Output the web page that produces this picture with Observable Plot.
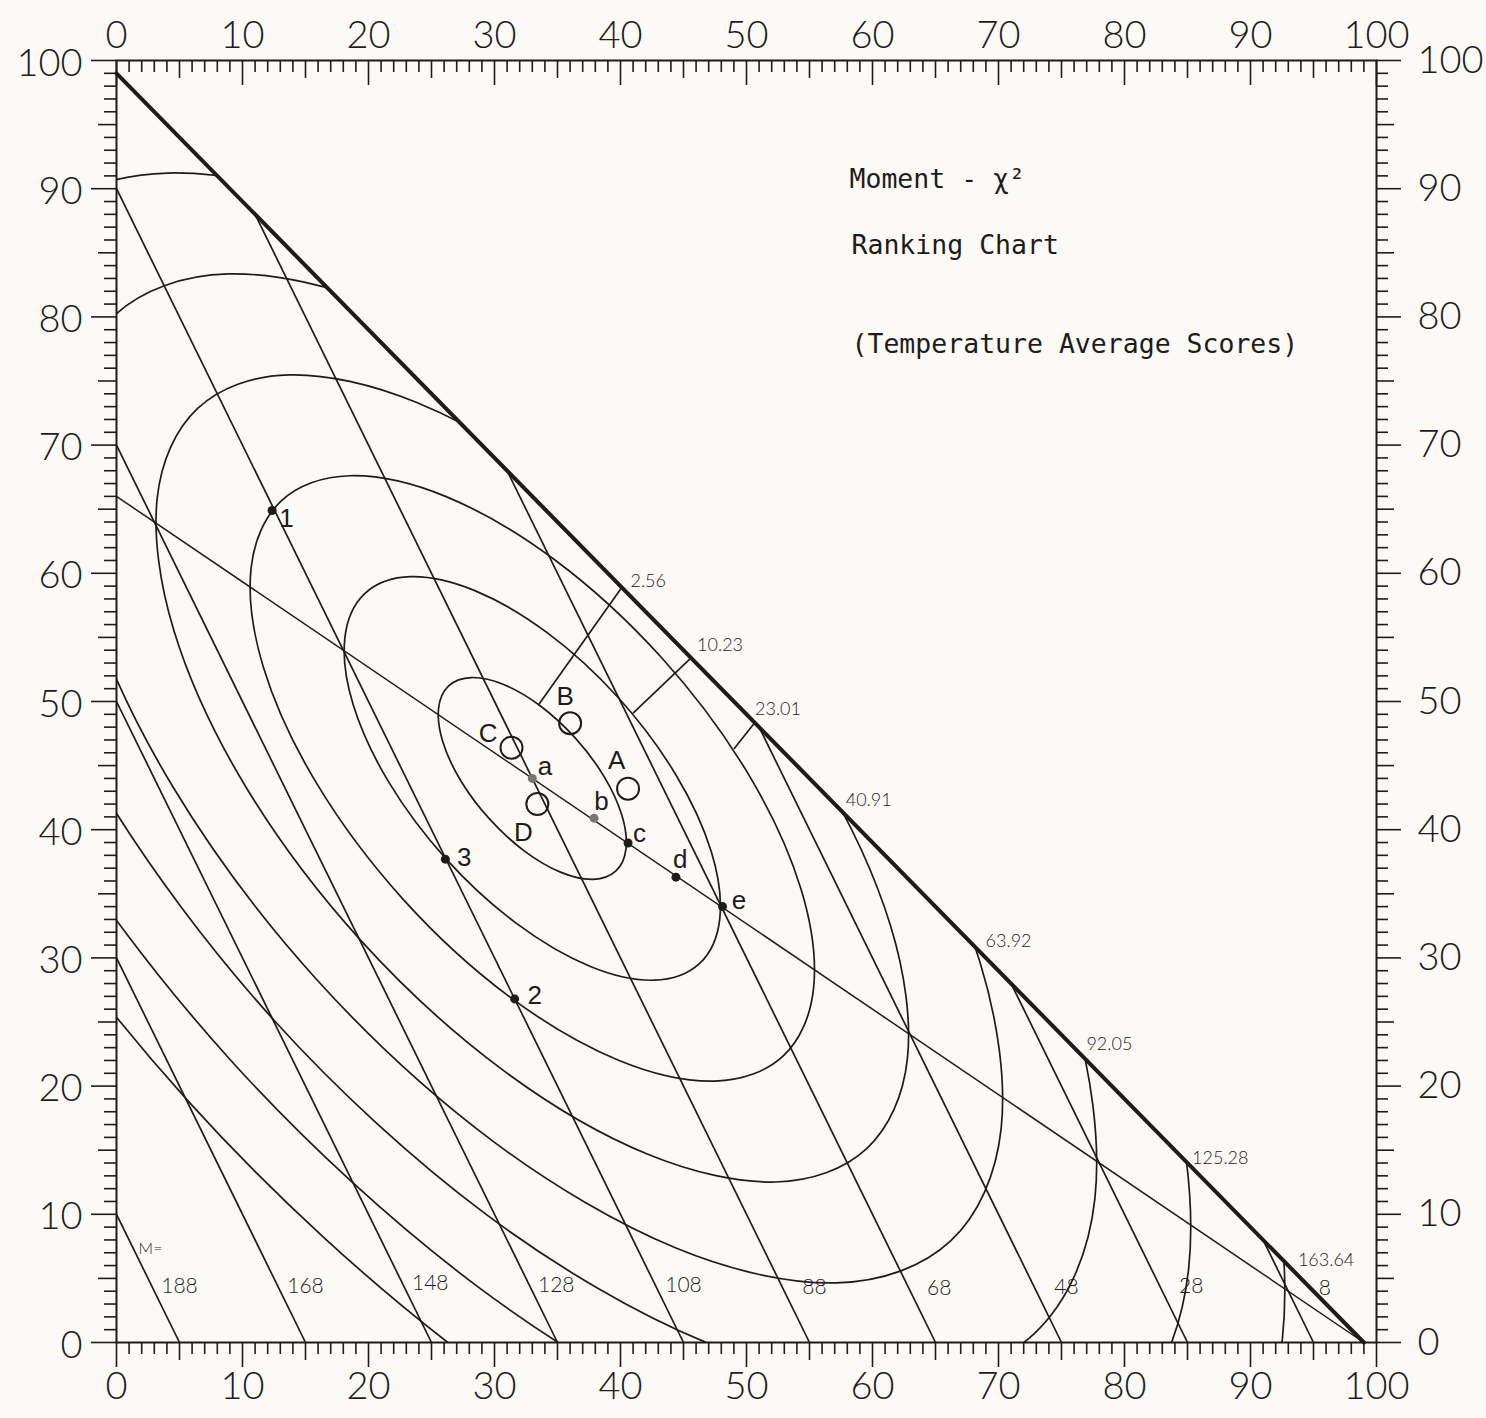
<!DOCTYPE html>
<html>
<head>
<meta charset="utf-8">
<script src="https://cdn.jsdelivr.net/npm/d3@7"></script>
<script src="https://cdn.jsdelivr.net/npm/@observablehq/plot@0.6"></script>
<style>
  html, body { margin: 0; padding: 0; background: #fbfaf6; }
  #chart { width: 1486px; height: 1418px; }
</style>
</head>
<body>
<div id="chart"></div>
<script>
// ---------------- data (axis units) ----------------
const axisLabels = [0, 10, 20, 30, 40, 50, 60, 70, 80, 90, 100];
const titleLines = ["Moment - χ²", "Ranking Chart", "(Temperature Average Scores)"];

// triangle edge (x + y = 99)
const hypotenuseX = [0, 99];
const hypotenuseY = [99, 0];
// ratio line through the centre of the contours
const ratioLineX = [0, 99];
const ratioLineY = [66, 0];

// moment (M) lines: from (x1,y1) down to the x axis at x2
const momentLabels = [188, 168, 148, 128, 108, 88, 68, 48, 28, 8];
const momentX1 = [0, 0, 0, 0, 0, 11, 31, 51, 71, 91];
const momentY1 = [10, 30, 50, 70, 90, 88, 68, 48, 28, 8];
const momentX2 = [5, 15, 25, 35, 45, 55, 65, 75, 85, 95];
const momentLabelX = [5.0, 15.0, 24.9, 34.9, 45.0, 55.4, 65.3, 75.4, 85.3, 95.9];
const momentLabelY = [4.4, 4.4, 4.6, 4.5, 4.5, 4.3, 4.2, 4.3, 4.4, 4.2];
const momentPrefix = ["M="];
const momentPrefixX = [2.7];
const momentPrefixY = [7.3];

// chi-square contours (k = 1..8), points read around each curve
const chiK = [1, 2, 3, 4, 5, 6, 7, 8];
const chiValues = [2.56, 10.23, 23.01, 40.91, 63.92, 92.05, 125.28, 163.64];
const chiLabelX = [42.2, 47.9, 52.5, 59.7, 70.8, 78.8, 87.6, 96.0];
const chiLabelY = [59.4, 54.4, 49.4, 42.3, 31.3, 23.3, 14.4, 6.4];

const contour1X = [39.64, 40.44, 40.11, 38.70, 36.42, 33.62, 30.72, 28.17, 26.36, 25.56, 25.89, 27.30, 29.58, 32.38, 35.28, 37.83];
const contour1Y = [36.78, 38.54, 41.12, 44.14, 47.14, 49.67, 51.33, 51.87, 51.22, 49.46, 46.88, 43.86, 40.86, 38.33, 36.67, 36.13];
const contour2X = [46.28, 47.88, 47.22, 44.39, 39.83, 34.23, 28.44, 23.35, 19.72, 18.12, 18.78, 21.61, 26.17, 31.77, 37.56, 42.65];
const contour2Y = [29.57, 33.07, 38.24, 44.29, 50.29, 55.33, 58.65, 59.74, 58.43, 54.93, 49.76, 43.71, 37.71, 32.67, 29.35, 28.26];
const contour3X = [52.92, 55.32, 54.33, 50.09, 43.25, 34.85, 26.16, 18.52, 13.08, 10.68, 11.67, 15.91, 22.75, 31.15, 39.84, 47.48];
const contour3Y = [22.35, 27.61, 35.36, 44.43, 53.43, 61.00, 65.98, 67.61, 65.65, 60.39, 52.64, 43.57, 34.57, 27.00, 22.02, 20.39];
const contour4X = [59.56, 62.77, 61.44, 55.79, 46.67, 35.46, 23.88, 13.69, 6.44, 3.23, 4.56, 10.21, 19.33, 30.54, 42.12, 52.31];
const contour4Y = [15.14, 22.14, 32.48, 44.57, 56.57, 66.66, 73.30, 75.48, 72.86, 65.86, 55.52, 43.43, 31.43, 21.34, 14.70, 12.52];
const contour5X = [66.20, 70.21, 68.55, 61.49, 50.08, 36.08, 21.60, 8.87, -0.20, -4.21, -2.55, 4.51, 15.92, 29.92, 44.40, 57.13];
const contour5Y = [7.92, 16.68, 29.60, 44.71, 59.72, 72.33, 80.63, 83.35, 80.08, 71.32, 58.40, 43.29, 28.28, 15.67, 7.37, 4.65];
const contour6X = [72.84, 77.65, 75.67, 67.18, 53.50, 36.69, 19.33, 4.04, -6.84, -11.65, -9.67, -1.18, 12.50, 29.31, 46.68, 61.96];
const contour6Y = [0.70, 11.22, 26.72, 44.86, 62.86, 77.99, 87.95, 91.22, 87.30, 76.78, 61.28, 43.14, 25.14, 10.01, 0.05, -3.22];
const contour7X = [79.48, 85.09, 82.78, 72.88, 56.92, 37.31, 17.05, -0.79, -13.48, -19.09, -16.78, -6.88, 9.08, 28.69, 48.95, 66.79];
const contour7Y = [-6.51, 5.75, 23.84, 45.00, 66.00, 83.66, 95.28, 99.09, 94.51, 82.25, 64.16, 43.00, 22.00, 4.34, -7.28, -11.09];
const contour8X = [86.12, 92.53, 89.89, 78.58, 60.33, 37.93, 14.77, -5.61, -20.12, -26.53, -23.89, -12.58, 5.67, 28.08, 51.23, 71.61];
const contour8Y = [-13.73, 0.29, 20.96, 45.14, 69.15, 89.33, 102.60, 106.96, 101.73, 87.71, 67.04, 42.86, 18.85, -1.33, -14.60, -18.96];

// leaders from the three inner contours to the edge
const leaderX1 = [33.5, 41.0, 49.0];
const leaderY1 = [49.75, 49.1, 46.3];
const leaderX2 = [40.1, 45.6, 50.65];
const leaderY2 = [58.9, 53.4, 48.35];

// open circles A-D
const circleLabels = ["A", "B", "C", "D"];
const circleX = [40.6, 36.0, 31.35, 33.4];
const circleY = [43.2, 48.3, 46.4, 42.0];
const circleTextX = [39.7, 35.6, 29.5, 32.3];
const circleTextY = [45.4, 50.4, 47.5, 39.8];

// filled points a-e, 1-3
const pointLabels = ["a", "b", "c", "d", "e", "1", "2", "3"];
const pointX = [33.0, 37.9, 40.6, 44.4, 48.1, 12.35, 31.6, 26.1];
const pointY = [44.0, 40.9, 38.96, 36.3, 34.0, 64.9, 26.8, 37.7];
const pointTone = ["grey", "grey", "black", "black", "black", "black", "black", "black"];
const pointTextX = [34.0, 38.5, 41.5, 44.75, 49.4, 13.5, 33.2, 27.6];
const pointTextY = [44.9, 42.2, 39.7, 37.7, 34.5, 64.3, 27.05, 37.85];

// ---------------- layout ----------------
const W = 1486, H = 1418, ML = 116, MR = 110, MT = 60, MB = 76;
const pxX = (W - ML - MR) / 100, pxY = (H - MT - MB) / 100;
const ink = "#1f1b18";
const numFont = "Lato, 'Open Sans', 'DejaVu Sans', sans-serif";
const monoFont = "'DejaVu Sans Mono', 'Liberation Mono', monospace";
const letterFont = "'Liberation Sans', Arial, sans-serif";
const tickLen = v => (v % 10 === 0 ? 25 : v % 5 === 0 ? 18 : 12);
const ticks = d3.range(0, 101);

const contourX = [contour1X, contour2X, contour3X, contour4X, contour5X, contour6X, contour7X, contour8X];
const contourY = [contour1Y, contour2Y, contour3Y, contour4Y, contour5Y, contour6Y, contour7Y, contour8Y];
const contours = [];
chiK.forEach((k, i) => contourX[i].forEach((x, j) => contours.push({k, x, y: contourY[i][j]})));

const hyp = hypotenuseX.map((x, i) => ({x, y: hypotenuseY[i]}));
const ratio = ratioLineX.map((x, i) => ({x, y: ratioLineY[i]}));
const moments = momentLabels.map((m, i) => ({m, x1: momentX1[i], y1: momentY1[i], x2: momentX2[i], y2: 0, lx: momentLabelX[i], ly: momentLabelY[i]}));
const chiText = chiValues.map((v, i) => ({t: v.toFixed(2), x: chiLabelX[i], y: chiLabelY[i]}));
const leaders = leaderX1.map((x, i) => ({x1: x, y1: leaderY1[i], x2: leaderX2[i], y2: leaderY2[i]}));
const circles = circleLabels.map((t, i) => ({t, x: circleX[i], y: circleY[i], tx: circleTextX[i], ty: circleTextY[i]}));
const points = pointLabels.map((t, i) => ({t, x: pointX[i], y: pointY[i], tone: pointTone[i], tx: pointTextX[i], ty: pointTextY[i]}));

const tickStyle = {stroke: ink, strokeWidth: 1.6};
const labelStyle = {fontSize: 38, fontWeight: 300, fontFamily: numFont, fill: ink};

const plot = Plot.plot({
  width: W, height: H,
  marginLeft: ML, marginRight: MR, marginTop: MT, marginBottom: MB,
  x: {domain: [0, 100], axis: null},
  y: {domain: [0, 100], axis: null},
  style: {background: "#fbfaf6", color: ink, fontFamily: numFont, overflow: "visible"},
  marks: [
    // chi-square contours (clipped to the triangle below)
    Plot.line(contours, {x: "x", y: "y", z: "k", curve: "cardinal-closed", tension: 0,
      stroke: ink, strokeWidth: 1.7, className: "chi-contours"}),
    // moment lines
    Plot.link(moments, {x1: "x1", y1: "y1", x2: "x2", y2: "y2", stroke: ink, strokeWidth: 1.7}),
    // ratio line
    Plot.line(ratio, {x: "x", y: "y", stroke: ink, strokeWidth: 1.5}),
    // leaders
    Plot.link(leaders, {x1: "x1", y1: "y1", x2: "x2", y2: "y2", stroke: ink, strokeWidth: 1.7}),
    // hypotenuse
    Plot.line(hyp, {x: "x", y: "y", stroke: ink, strokeWidth: 4}),
    // frame and ticks
    Plot.frame({stroke: ink, strokeWidth: 2}),
    Plot.ruleX(ticks, {x: d => d, y1: 0, y2: d => -tickLen(d) / pxY, ...tickStyle}),
    Plot.ruleX(ticks, {x: d => d, y1: 100, y2: d => 100 - tickLen(d) / pxY, ...tickStyle}),
    Plot.ruleY(ticks, {y: d => d, x1: 0, x2: d => -tickLen(d) / pxX, ...tickStyle}),
    Plot.ruleY(ticks, {y: d => d, x1: 100, x2: d => 100 + tickLen(d) / pxX, ...tickStyle}),
    // tick labels
    Plot.text(axisLabels, {x: d => d, y: 0, dy: 44, text: d => `${d}`, ...labelStyle}),
    Plot.text(axisLabels, {x: d => d, y: 100, dy: -25, text: d => `${d}`, ...labelStyle}),
    Plot.text(axisLabels, {x: 0, y: d => d, dx: -34, dy: 3, textAnchor: "end", text: d => `${d}`, ...labelStyle}),
    Plot.text(axisLabels, {x: 100, y: d => d, dx: 41, textAnchor: "start", text: d => `${d}`, ...labelStyle}),
    // moment labels
    Plot.text(moments, {x: "lx", y: "ly", text: d => `${d.m}`, fontSize: 21, fontWeight: 300, fontFamily: numFont, fill: ink}),
    Plot.text(momentPrefix, {x: momentPrefixX, y: momentPrefixY, text: d => d, fontSize: 16, fontWeight: 300, fontFamily: numFont, fill: ink}),
    // chi-square labels
    Plot.text(chiText, {x: "x", y: "y", text: "t", fontSize: 18, fontWeight: 300, fontFamily: numFont, fill: ink}),
    // open circles and their letters
    Plot.dot(circles, {x: "x", y: "y", r: 11, fill: "none", stroke: ink, strokeWidth: 2}),
    Plot.text(circles, {x: "tx", y: "ty", text: "t", fontSize: 26, fontFamily: letterFont, fill: ink}),
    // filled points and labels
    Plot.dot(points, {x: "x", y: "y", r: 4.5, fill: d => d.tone === "grey" ? "#7a7670" : ink, stroke: "none"}),
    Plot.text(points, {x: "tx", y: "ty", text: "t", fontSize: 26, fontFamily: letterFont, fill: ink}),
    // title block
    Plot.text([titleLines[0]], {frameAnchor: "top-left", dx: 733, dy: 127, textAnchor: "start", lineAnchor: "bottom", fontSize: 26.5, fontFamily: monoFont, fill: ink}),
    Plot.text([titleLines[1]], {frameAnchor: "top-left", dx: 735, dy: 193, textAnchor: "start", lineAnchor: "bottom", fontSize: 26.5, fontFamily: monoFont, fill: ink}),
    Plot.text([titleLines[2]], {frameAnchor: "top-left", dx: 735, dy: 292, textAnchor: "start", lineAnchor: "bottom", fontSize: 26.5, fontFamily: monoFont, fill: ink})
  ]
});

// clip the contour curves to the triangle 0 <= x, 0 <= y, x + y <= 99
const sx = plot.scale("x"), sy = plot.scale("y");
const triX = [0, hypotenuseX[0], hypotenuseX[1]];
const triY = [0, hypotenuseY[0], hypotenuseY[1]];
const ns = "http://www.w3.org/2000/svg";
const defs = document.createElementNS(ns, "defs");
const clip = document.createElementNS(ns, "clipPath");
clip.setAttribute("id", "triangle-clip");
clip.setAttribute("clipPathUnits", "userSpaceOnUse");
const poly = document.createElementNS(ns, "polygon");
poly.setAttribute("points", triX.map((x, i) => `${sx.apply(x)},${sy.apply(triY[i])}`).join(" "));
clip.appendChild(poly);
defs.appendChild(clip);
plot.insertBefore(defs, plot.firstChild);
const contourGroup = plot.querySelector("g.chi-contours");
if (contourGroup) {
  // wrap so the clip is in the svg's own coordinates
  const wrap = document.createElementNS(ns, "g");
  wrap.setAttribute("clip-path", "url(#triangle-clip)");
  contourGroup.parentNode.insertBefore(wrap, contourGroup);
  wrap.appendChild(contourGroup);
}

document.getElementById("chart").appendChild(plot);
</script>
</body>
</html>
